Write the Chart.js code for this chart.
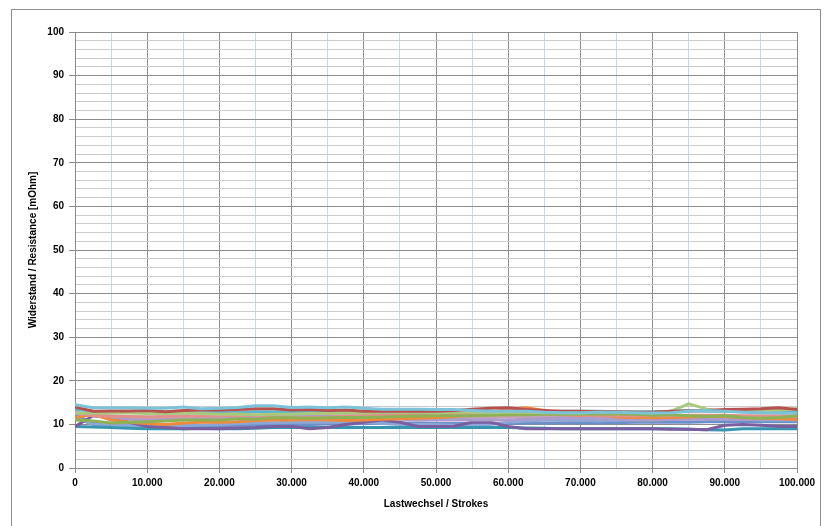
<!DOCTYPE html>
<html>
<head>
<meta charset="utf-8">
<script src="https://cdn.jsdelivr.net/npm/chart.js@4"></script>
<style>
  body { margin: 0; background: #fff; }
  #wrap { position: relative; width: 825px; height: 526px; overflow: hidden; }
  #frame { position: absolute; left: 11px; top: 9px; width: 808px; height: 540px; border: 1px solid #8c8c8c; }
  canvas { position: absolute; left: 0; top: 0; }
</style>
</head>
<body>
<div id="wrap">
  <div id="frame"></div>
  <canvas id="chart" width="825" height="526"></canvas>
</div>
<script>
// Lastwechsel (x), un point tous les 2.500
const strokes = [0, 2500, 5000, 7500, 10000, 12500, 15000, 17500, 20000, 22500, 25000, 27500, 30000, 32500, 35000, 37500, 40000, 42500, 45000, 47500, 50000, 52500, 55000, 57500, 60000, 62500, 65000, 67500, 70000, 72500, 75000, 77500, 80000, 82500, 85000, 87500, 90000, 92500, 95000, 97500, 100000];

// Widerstand [mOhm] par éprouvette
const s1 = [14.5, 13.8, 13.8, 13.8, 13.7, 13.7, 14.0, 13.6, 13.7, 13.9, 14.3, 14.3, 13.9, 14.0, 13.8, 14.0, 13.7, 13.5, 13.5, 13.5, 13.4, 13.4, 13.2, 13.0, 13.0, 13.0, 12.8, 12.7, 12.7, 12.8, 12.8, 12.7, 12.6, 12.7, 13.0, 13.2, 13.0, 12.8, 12.7, 12.6, 12.6];
const s2 = [14.0, 13.0, 13.1, 13.1, 13.2, 12.9, 13.2, 13.3, 13.3, 13.4, 13.6, 13.6, 13.3, 13.4, 13.2, 13.3, 13.0, 13.1, 13.0, 13.1, 13.0, 13.2, 13.5, 13.7, 13.8, 13.4, 13.2, 13.0, 13.0, 12.9, 12.9, 12.8, 12.8, 13.0, 13.1, 13.2, 13.4, 13.5, 13.6, 13.8, 13.4];
const s3 = [12.5, 12.6, 12.7, 12.6, 12.5, 12.5, 12.6, 12.5, 12.3, 12.4, 12.2, 12.3, 12.3, 12.5, 12.5, 12.6, 12.6, 12.8, 12.8, 12.8, 12.7, 12.8, 12.8, 12.7, 12.8, 12.8, 12.7, 12.7, 12.6, 12.8, 12.7, 12.8, 12.7, 13.0, 14.7, 13.5, 13.0, 13.2, 13.0, 13.3, 13.6];
const s4 = [11.0, 10.8, 10.3, 10.5, 10.6, 10.8, 11.0, 11.0, 11.0, 11.3, 11.2, 11.5, 11.5, 11.4, 11.5, 11.6, 11.6, 11.7, 11.8, 11.9, 12.0, 12.0, 12.0, 12.1, 12.2, 12.2, 12.3, 12.3, 12.3, 12.4, 12.4, 12.3, 12.1, 12.2, 12.0, 11.8, 12.0, 11.6, 11.4, 11.6, 12.0];
const s5 = [12.5, 12.0, 11.8, 11.8, 11.7, 11.8, 11.9, 11.9, 12.0, 12.1, 12.0, 11.8, 11.5, 11.6, 11.7, 11.9, 12.0, 12.1, 12.2, 12.2, 12.2, 12.3, 12.4, 12.5, 12.5, 12.4, 12.3, 12.2, 12.1, 12.0, 12.0, 12.0, 12.0, 12.0, 12.1, 12.1, 12.1, 12.0, 12.0, 12.0, 12.0];
const s6 = [11.5, 12.3, 11.0, 10.5, 10.2, 10.0, 10.3, 10.5, 10.5, 10.6, 10.9, 11.0, 11.0, 11.1, 11.0, 10.9, 11.0, 11.2, 11.3, 11.4, 11.6, 11.8, 12.3, 12.8, 13.5, 13.8, 13.2, 12.4, 12.0, 12.2, 11.7, 11.6, 11.5, 11.6, 11.7, 11.8, 11.8, 11.6, 11.4, 11.3, 11.2];
const s7 = [12.5, 12.0, 11.6, 11.2, 11.0, 11.0, 11.1, 11.2, 11.2, 11.3, 11.5, 11.6, 11.8, 12.0, 12.0, 12.0, 12.0, 11.5, 11.2, 11.0, 11.0, 11.0, 11.0, 11.0, 11.0, 11.2, 11.3, 11.4, 11.5, 11.3, 11.2, 11.0, 11.0, 11.1, 11.2, 11.2, 11.2, 11.1, 11.2, 11.2, 11.2];
const s8 = [9.5, 12.0, 11.5, 10.5, 9.5, 9.3, 9.0, 9.0, 9.0, 9.2, 9.3, 9.5, 9.5, 9.0, 9.3, 10.0, 10.5, 11.0, 10.5, 9.5, 9.5, 9.6, 10.5, 10.5, 9.5, 9.0, 9.0, 9.0, 9.0, 9.0, 9.0, 9.0, 9.0, 8.9, 8.9, 8.8, 9.8, 10.0, 9.8, 9.5, 9.5];
const s9 = [9.5, 9.4, 9.3, 9.1, 9.0, 9.0, 9.0, 9.1, 9.0, 9.0, 9.1, 9.3, 9.3, 9.3, 9.3, 9.3, 9.3, 9.3, 9.3, 9.3, 9.3, 9.3, 9.3, 9.3, 9.3, 9.2, 9.1, 9.0, 9.0, 9.0, 9.0, 9.0, 9.0, 9.0, 8.9, 8.8, 8.7, 9.0, 9.0, 9.0, 9.0];
const s10 = [11.5, 10.0, 10.0, 9.8, 9.6, 9.5, 9.8, 9.8, 10.0, 10.2, 10.3, 10.4, 10.5, 10.5, 10.5, 10.5, 10.5, 10.2, 10.0, 10.0, 10.0, 9.8, 9.8, 10.0, 10.5, 10.8, 11.0, 11.0, 11.0, 10.8, 11.0, 11.0, 11.0, 11.2, 11.3, 11.5, 11.5, 11.3, 11.0, 11.0, 11.0];
const s11 = [12.2, 10.3, 10.0, 9.8, 9.5, 9.5, 9.6, 9.8, 9.7, 9.8, 9.8, 10.0, 10.0, 10.0, 10.1, 10.1, 10.2, 10.3, 10.3, 10.3, 10.2, 10.2, 10.2, 10.2, 10.2, 10.3, 10.3, 10.4, 10.4, 10.4, 10.4, 10.5, 10.5, 10.5, 10.5, 10.6, 10.6, 10.6, 10.6, 10.6, 10.6];
const s12 = [13.5, 13.0, 12.8, 12.8, 12.7, 12.6, 12.6, 12.7, 12.8, 12.8, 12.9, 12.9, 12.9, 12.8, 12.8, 12.8, 12.7, 12.6, 12.6, 12.6, 12.7, 12.7, 12.8, 12.8, 12.8, 12.9, 12.9, 13.0, 13.0, 13.0, 12.9, 12.9, 12.9, 13.0, 13.2, 13.0, 13.0, 12.9, 12.8, 12.8, 12.8];
const s13 = [12.8, 12.2, 12.0, 11.8, 11.6, 11.5, 11.6, 11.6, 11.7, 11.8, 11.8, 11.8, 11.9, 11.9, 11.8, 11.8, 11.8, 11.8, 11.7, 11.7, 11.6, 11.6, 11.6, 11.6, 11.7, 11.7, 11.7, 11.6, 11.6, 11.6, 11.6, 11.6, 11.6, 11.6, 11.5, 11.5, 11.5, 11.5, 11.4, 11.4, 11.4];

const seriesList = [s1, s2, s3, s4, s5, s6, s7, s8, s9, s10, s11, s12, s13];
const colors = ['#7cc3d9', '#b8504d', '#a9c97f', '#8db255', '#e0918e', '#ee8a3c', '#aa9ccb', '#7a5fa0', '#3795b0', '#8da6d8', '#6b8fc8', '#5fb5cc', '#c9a0b8'];

// Formatage allemand : 10.000
function formatStrokes(v) {
  return String(v).replace(/\B(?=(\d{3})+(?!\d))/g, '.');
}

const font = { family: 'Liberation Sans', size: 10, weight: 'bold' };

const datasets = seriesList.map((s, i) => ({
  data: strokes.map((x, j) => ({ x: x, y: s[j] })),
  borderColor: colors[i],
  borderWidth: 3,
  pointRadius: 0,
  fill: false,
  tension: 0
}));

new Chart(document.getElementById('chart'), {
  type: 'line',
  data: { datasets: datasets },
  options: {
    responsive: false,
    animation: false,
    devicePixelRatio: 1,
    layout: { padding: { left: 11, right: 28, top: 32, bottom: 0 } },
    plugins: {
      legend: { display: false },
      tooltip: { enabled: false }
    },
    scales: {
      x: {
        type: 'linear',
        min: 0,
        max: 100000,
        afterFit: (scale) => { scale.height = 58; },
        ticks: {
          stepSize: 5000,
          autoSkip: false,
          maxRotation: 0,
          padding: 4,
          color: '#000',
          font: font,
          callback: (v) => v % 10000 === 0 ? formatStrokes(v) : ''
        },
        grid: {
          color: (ctx) => ctx.tick && ctx.tick.value % 10000 === 0 ? '#8c8c8c' : '#c6d9f0',
          tickColor: (ctx) => ctx.tick && ctx.tick.value % 10000 === 0 ? '#8c8c8c' : 'rgba(0,0,0,0)',
          tickLength: 5
        },
        border: { color: '#8c8c8c' },
        title: {
          display: true,
          text: 'Lastwechsel / Strokes',
          color: '#000',
          font: font,
          padding: { top: 0, bottom: 16 }
        }
      },
      y: {
        min: 0,
        max: 100,
        afterFit: (scale) => { scale.width = 64; },
        ticks: {
          stepSize: 2,
          autoSkip: false,
          padding: 5,
          color: '#000',
          font: font,
          callback: (v) => v % 10 === 0 ? v : ''
        },
        grid: {
          color: (ctx) => ctx.tick && ctx.tick.value % 10 === 0 ? '#8c8c8c' : '#cccccc',
          tickColor: (ctx) => ctx.tick && ctx.tick.value % 10 === 0 ? '#8c8c8c' : 'rgba(0,0,0,0)',
          tickLength: 6
        },
        border: { color: '#8c8c8c' },
        title: {
          display: true,
          text: 'Widerstand / Resistance [mOhm]',
          color: '#000',
          font: font,
          padding: { top: 16, bottom: 0 }
        }
      }
    }
  }
});
</script>
</body>
</html>
